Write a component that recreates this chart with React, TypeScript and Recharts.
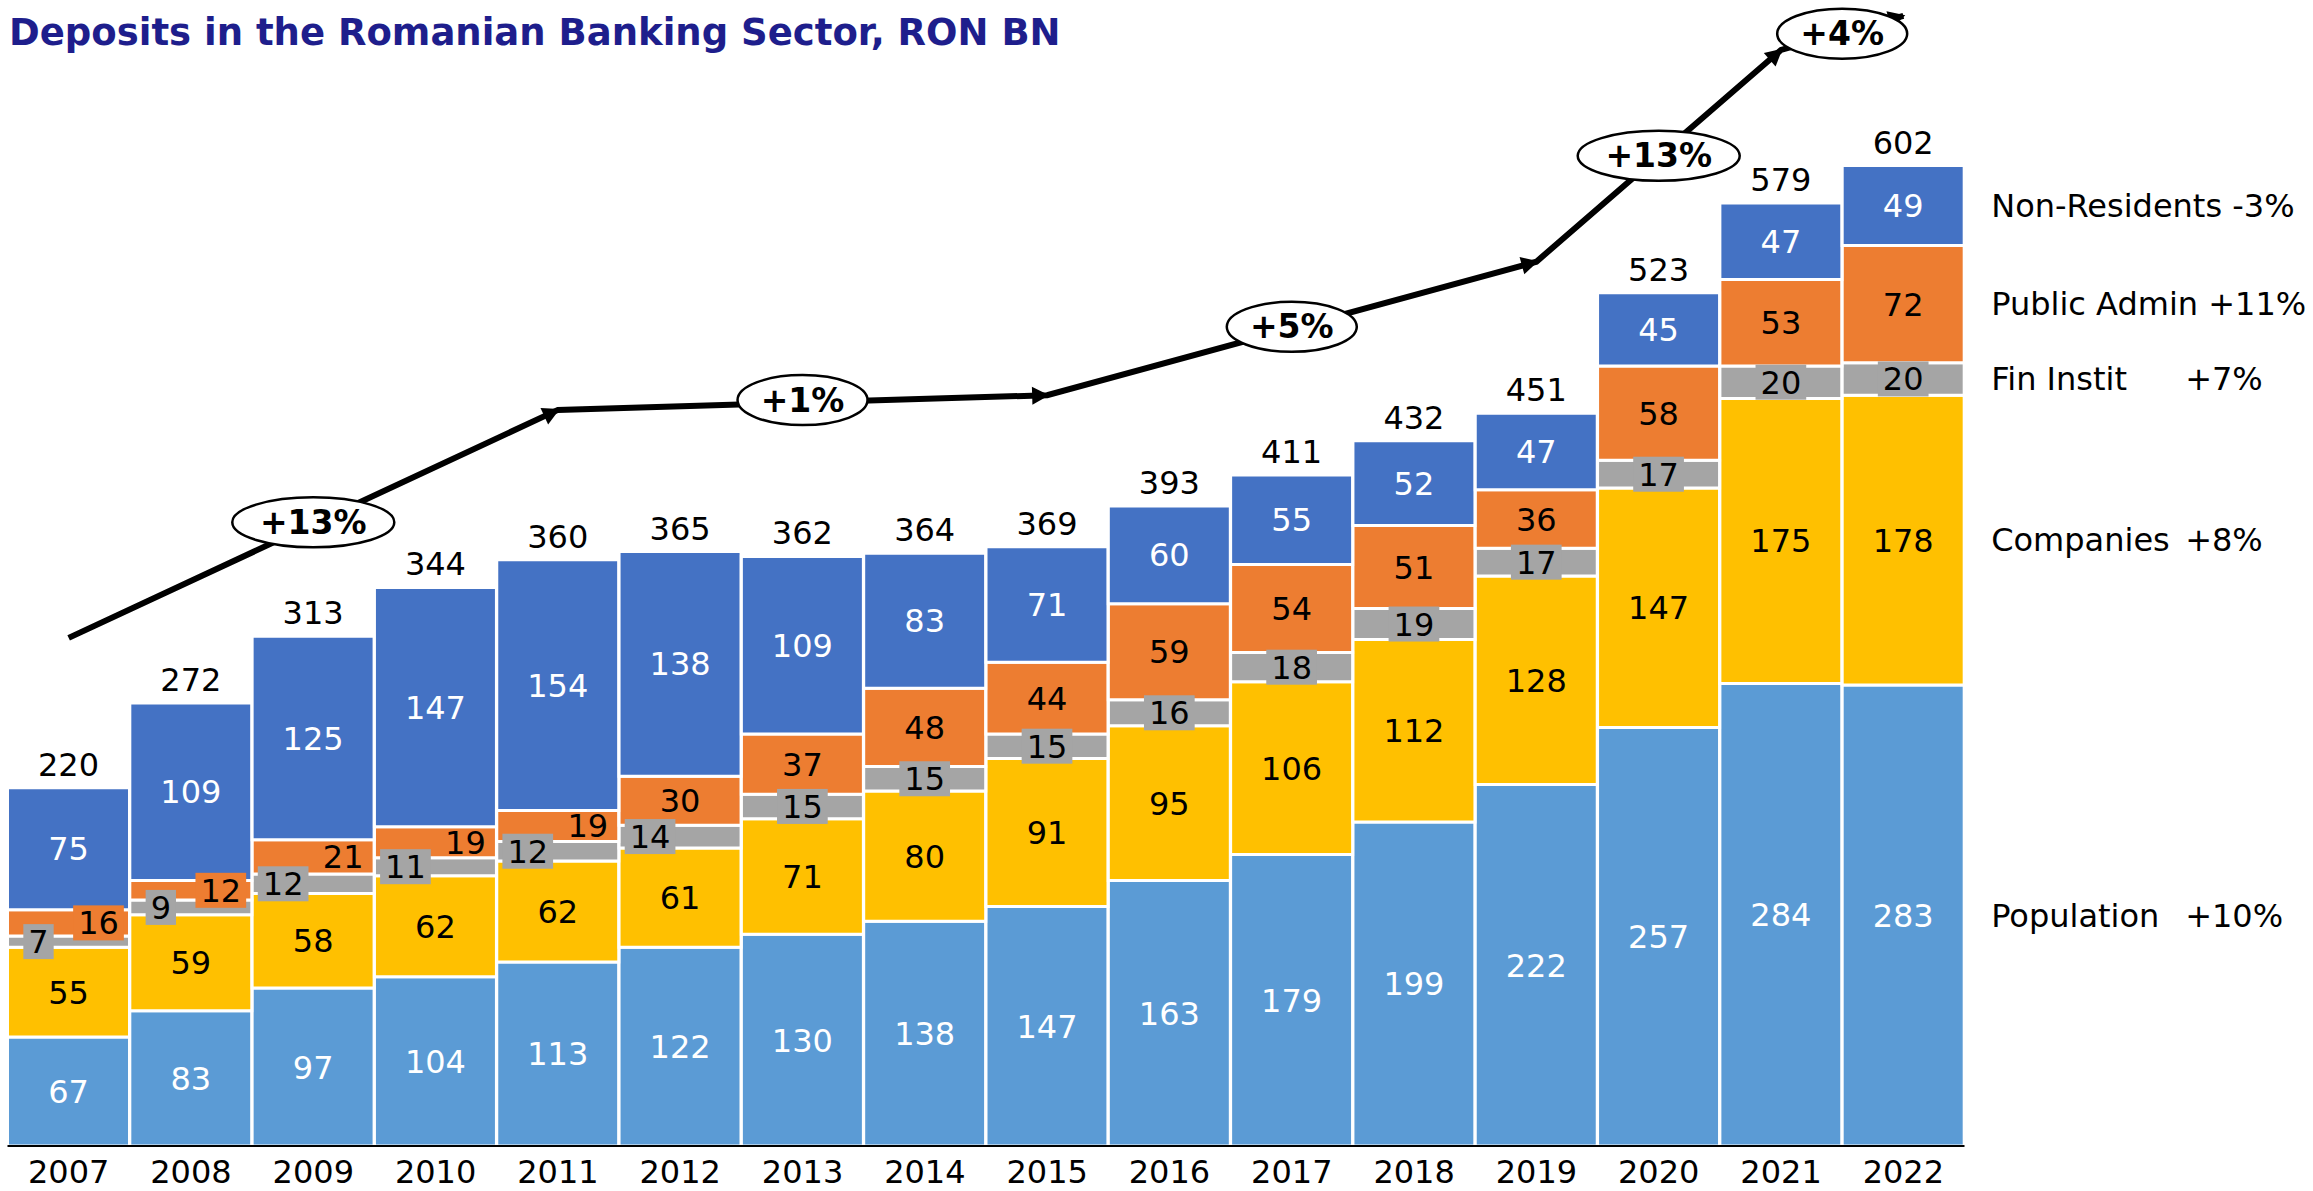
import React from 'react';
import { ComposedChart, Bar, Line, XAxis, YAxis, LabelList } from 'recharts';

const years = ['2007', '2008', '2009', '2010', '2011', '2012', '2013', '2014', '2015', '2016', '2017', '2018', '2019', '2020', '2021', '2022'];
const population = [67, 83, 97, 104, 113, 122, 130, 138, 147, 163, 179, 199, 222, 257, 284, 283];
const companies = [55, 59, 58, 62, 62, 61, 71, 80, 91, 95, 106, 112, 128, 147, 175, 178];
const finInstit = [7, 9, 12, 11, 12, 14, 15, 15, 15, 16, 18, 19, 17, 17, 20, 20];
const publicAdmin = [16, 12, 21, 19, 19, 30, 37, 48, 44, 59, 54, 51, 36, 58, 53, 72];
const nonResidents = [75, 109, 125, 147, 154, 138, 109, 83, 71, 60, 55, 52, 47, 45, 47, 49];
const totals = [220, 272, 313, 344, 360, 365, 362, 364, 369, 393, 411, 432, 451, 523, 579, 602];

const seriesNames = ['Population', 'Companies', 'Fin Instit', 'Public Admin', 'Non-Residents'];
const seriesGrowth = ['+10%', '+8%', '+7%', '+11%', '-3%'];

// trend arrow drawn over the bars
const trendYears = [2007, 2011, 2015, 2019, 2021, 2022];
const trendValues = [312, 452, 461, 543, 673, 694];
const growthYears = [2009, 2013, 2017, 2020, 2021.5];
const growthValues = [383, 458, 503, 608, 683];
const growthLabels = ['+13%', '+1%', '+5%', '+13%', '+4%'];

const FONT = '"DejaVu Sans", Verdana, sans-serif';
const FS = 32;

const chartData = years.map((year, i) => ({
  year,
  population: population[i],
  companies: companies[i],
  finInstit: finInstit[i],
  publicAdmin: publicAdmin[i],
  nonResidents: nonResidents[i],
  total: totals[i],
}));
const trendData = trendYears.map((year, i) => ({ year, v: trendValues[i] }));
const growthData = growthYears.map((year, i) => ({ year, v: growthValues[i] }));

const rectOf = (p: any) => {
  const vb = p.viewBox && p.viewBox.width !== undefined ? p.viewBox : p;
  return { x: Number(vb.x), y: Number(vb.y), w: Number(vb.width), h: Number(vb.height) };
};

const segmentLabel =
  (color: string, boxFill: string | null, shift: (i: number) => number, boxed: (i: number) => boolean) =>
  (p: any) => {
    const { x, y, w, h } = rectOf(p);
    const s = String(p.value);
    const cx = x + w / 2 + shift(p.index);
    const cy = y + h / 2;
    const bw = s.length * FS * 0.636 + 10;
    return (
      <g>
        {boxFill && boxed(p.index) && (
          <rect x={cx - bw / 2} y={cy - 17.5} width={bw} height={35} fill={boxFill} />
        )}
        <text x={cx} y={cy + 11.5} textAnchor="middle" fontSize={FS} fontFamily={FONT} fill={color}>
          {s}
        </text>
      </g>
    );
  };

const sideLabel = (k: number) => (p: any) => {
  if (p.index !== years.length - 1) return null;
  const { x, y, w, h } = rectOf(p);
  const lx = x + w + 27;
  const aligned = k <= 2;
  return (
    <text x={lx} y={y + h / 2 + 11} fontSize={32} fontFamily={FONT} fill="#000">
      {aligned ? seriesNames[k] : seriesNames[k] + ' '}
      <tspan x={aligned ? lx + 194 : undefined}>{seriesGrowth[k]}</tspan>
    </text>
  );
};

const totalLabel = (p: any) => {
  const { x, y, w } = rectOf(p);
  return (
    <text x={x + w / 2} y={y - 12} textAnchor="middle" fontSize={FS} fontFamily={FONT} fill="#000">
      {p.value}
    </text>
  );
};

const trendPx: { x: number; y: number }[] = [];
const ArrowDot = (p: any) => {
  const { cx, cy, index } = p;
  trendPx[index] = { x: cx, y: cy };
  const prev = trendPx[index - 1];
  if (index === 0 || !prev) return <g key={`arrow-${index}`} />;
  const ang = (Math.atan2(cy - prev.y, cx - prev.x) * 180) / Math.PI;
  return (
    <path
      key={`arrow-${index}`}
      d="M2,0 L-15,-9 L-15,9 Z"
      transform={`translate(${cx},${cy}) rotate(${ang})`}
      fill="#000"
    />
  );
};

const GrowthDot = (p: any) => {
  const { cx, cy, index } = p;
  const s = growthLabels[index];
  return (
    <g key={`growth-${index}`}>
      <ellipse cx={cx} cy={cy} rx={17 + s.length * 16} ry={25} fill="#fff" stroke="#000" strokeWidth={2.5} />
      <text x={cx} y={cy + 11.5} textAnchor="middle" fontSize={33} fontWeight="bold" fontFamily={FONT} fill="#000">
        {s}
      </text>
    </g>
  );
};

const App: React.FC = () => {
  const bar = { stackId: 'a', stroke: '#fff', strokeWidth: 3, isAnimationActive: false };
  return (
    <div style={{ position: 'absolute', left: 0, top: 0, width: 2313, height: 1191, background: '#fff', fontFamily: FONT }}>
      <div
        style={{
          position: 'absolute',
          left: 9,
          top: 11,
          fontSize: 37,
          fontWeight: 'bold',
          color: '#1E1E8C',
          whiteSpace: 'nowrap',
          zIndex: 2,
        }}
      >
        Deposits in the Romanian Banking Sector, RON BN
      </div>
      <ComposedChart
        width={2313}
        height={1191}
        data={chartData}
        margin={{ top: 6, right: 348.5, bottom: 0, left: 7.5 }}
        barCategoryGap={0}
      >
        <XAxis
          dataKey="year"
          interval={0}
          height={45}
          tickLine={false}
          tickMargin={8}
          axisLine={{ stroke: '#000', strokeWidth: 2 }}
          tick={{ fill: '#000', fontSize: FS, fontFamily: FONT }}
        />
        <XAxis xAxisId="trend" type="number" dataKey="year" domain={[2006.5, 2022.5]} allowDataOverflow hide />
        <YAxis type="number" domain={[0, 700]} allowDataOverflow hide />

        <Bar dataKey="population" fill="#5B9BD5" {...bar}>
          <LabelList dataKey="population" content={segmentLabel('#fff', null, () => 0, () => false)} />
          <LabelList dataKey="population" content={sideLabel(0)} />
        </Bar>
        <Bar dataKey="companies" fill="#FFC000" {...bar}>
          <LabelList dataKey="companies" content={segmentLabel('#000', null, () => 0, () => false)} />
          <LabelList dataKey="companies" content={sideLabel(1)} />
        </Bar>
        <Bar dataKey="finInstit" fill="#A5A5A5" {...bar}>
          <LabelList dataKey="finInstit" content={segmentLabel('#000', '#A5A5A5', (i) => (i <= 5 ? -30 : 0), () => true)} />
          <LabelList dataKey="finInstit" content={sideLabel(2)} />
        </Bar>
        <Bar dataKey="publicAdmin" fill="#ED7D31" {...bar}>
          <LabelList dataKey="publicAdmin" content={segmentLabel('#000', '#ED7D31', (i) => (i <= 4 ? 30 : 0), (i) => i <= 1)} />
          <LabelList dataKey="publicAdmin" content={sideLabel(3)} />
        </Bar>
        <Bar dataKey="nonResidents" fill="#4472C4" {...bar}>
          <LabelList dataKey="nonResidents" content={segmentLabel('#fff', null, () => 0, () => false)} />
          <LabelList dataKey="nonResidents" content={sideLabel(4)} />
          <LabelList dataKey="total" content={totalLabel} />
        </Bar>

        <Line
          xAxisId="trend"
          data={trendData}
          dataKey="v"
          type="linear"
          stroke="#000"
          strokeWidth={6}
          dot={ArrowDot}
          activeDot={false}
          isAnimationActive={false}
        />
        <Line
          xAxisId="trend"
          data={growthData}
          dataKey="v"
          type="linear"
          stroke="none"
          dot={GrowthDot}
          activeDot={false}
          isAnimationActive={false}
        />
      </ComposedChart>
    </div>
  );
};

export default App;
